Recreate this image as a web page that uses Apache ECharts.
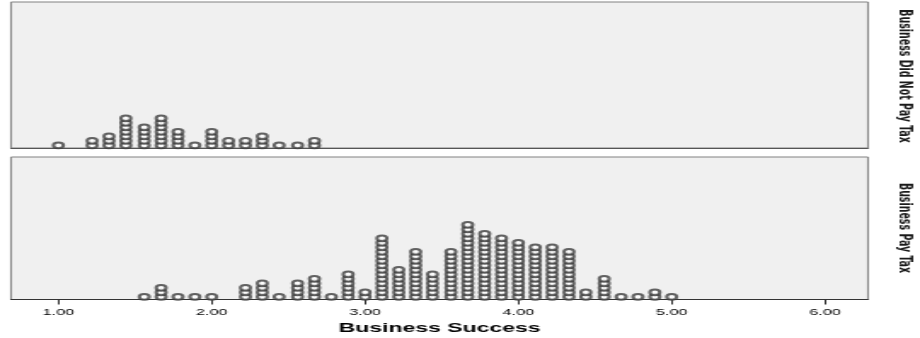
<!DOCTYPE html>
<html><head><meta charset="utf-8">
<script src="https://cdn.jsdelivr.net/npm/echarts@6/dist/echarts.min.js"></script>
<style>
html,body{margin:0;padding:0;background:#fff;overflow:hidden;}
#wrap{width:920px;height:338px;overflow:hidden;position:relative;}
#c{width:540px;height:338px;transform:scaleX(1.7037);transform-origin:0 0;}
</style></head><body><div id="wrap"><div id="c"></div></div>
<script>
// Business Success scores (bins) and number of dots stacked in each
const topBins = [1.00, 1.22, 1.33, 1.44, 1.56, 1.67, 1.78, 1.89, 2.00, 2.11, 2.22, 2.33, 2.44, 2.56, 2.67];
const topCounts = [1, 2, 3, 7, 5, 7, 4, 1, 4, 2, 2, 3, 1, 1, 2];
const bottomBins = [1.56, 1.67, 1.78, 1.89, 2.00, 2.22, 2.33, 2.44, 2.56, 2.67, 2.78, 2.89, 3.00, 3.11, 3.22, 3.33, 3.44, 3.56, 3.67, 3.78, 3.89, 4.00, 4.11, 4.22, 4.33, 4.44, 4.56, 4.67, 4.78, 4.89, 5.00];
const bottomCounts = [1, 3, 1, 1, 1, 3, 4, 1, 4, 5, 1, 6, 2, 14, 7, 11, 6, 11, 17, 15, 14, 13, 12, 12, 11, 2, 5, 1, 1, 2, 1];
const tickValues = [1, 2, 3, 4, 5, 6];
const panelLabels = ['Business Did Not Pay Tax', 'Business Pay Tax'];
const axisTitle = 'Business Success';

function stack(bins, counts) {
  const pts = [];
  bins.forEach((b, k) => { for (let i = 0; i < counts[k]; i++) pts.push([b, i]); });
  return pts;
}

const chart = echarts.init(document.getElementById('c'));
const xMin = 0.691, xMax = 6.28;
const dotStyle = {
  type: 'scatter', symbol: 'emptyCircle', symbolSize: 5.8,
  itemStyle: { color: '#3c3c3c', borderWidth: 1.1 }, silent: true, animation: false
};
const gridBase = { left: 6.46, width: 503, show: true, backgroundColor: '#f0f0f0', borderColor: '#808080', borderWidth: 1 };
const sideFont = 'bold 10.5px "Liberation Sans Narrow", "DejaVu Sans Condensed", sans-serif';
chart.setOption({
  animation: false,
  grid: [
    Object.assign({ top: 2, height: 146 }, gridBase),
    Object.assign({ top: 157, height: 142.5 }, gridBase)
  ],
  xAxis: [
    { gridIndex: 0, type: 'value', min: xMin, max: xMax, axisLine: { show: true, onZero: false, lineStyle: { color: '#555', width: 1 } },
      axisTick: { show: false }, axisLabel: { show: false }, splitLine: { show: false } },
    { gridIndex: 1, type: 'value', min: xMin, max: xMax,
      axisLine: { show: true, onZero: false, lineStyle: { color: '#333', width: 1 } },
      axisTick: { show: true, length: 5, customValues: tickValues, lineStyle: { color: '#333' } },
      axisLabel: { show: true, customValues: tickValues, formatter: v => v.toFixed(2), margin: 8,
        fontFamily: 'Liberation Sans, Arial, sans-serif', fontSize: 9.5, color: '#000' },
      splitLine: { show: false },
      name: axisTitle, nameLocation: 'middle', nameGap: 21.5,
      nameTextStyle: { fontFamily: 'Liberation Sans, Arial, sans-serif', fontSize: 13.5, fontWeight: 'bold', color: '#000' } }
  ],
  yAxis: [
    { gridIndex: 0, type: 'value', min: -0.6, max: 31.84, show: false },
    { gridIndex: 1, type: 'value', min: -0.6, max: 31.07, show: false }
  ],
  graphic: [
    { type: 'text', x: 531.2, y: 76, rotation: -Math.PI / 2,
      style: { text: panelLabels[0], font: sideFont, fill: '#1a1a1a', textAlign: 'center', textVerticalAlign: 'middle' } },
    { type: 'text', x: 531.2, y: 228, rotation: -Math.PI / 2,
      style: { text: panelLabels[1], font: sideFont, fill: '#1a1a1a', textAlign: 'center', textVerticalAlign: 'middle' } }
  ],
  series: [
    Object.assign({ xAxisIndex: 0, yAxisIndex: 0, data: stack(topBins, topCounts) }, dotStyle),
    Object.assign({ xAxisIndex: 1, yAxisIndex: 1, data: stack(bottomBins, bottomCounts) }, dotStyle)
  ]
});
</script></body></html>
